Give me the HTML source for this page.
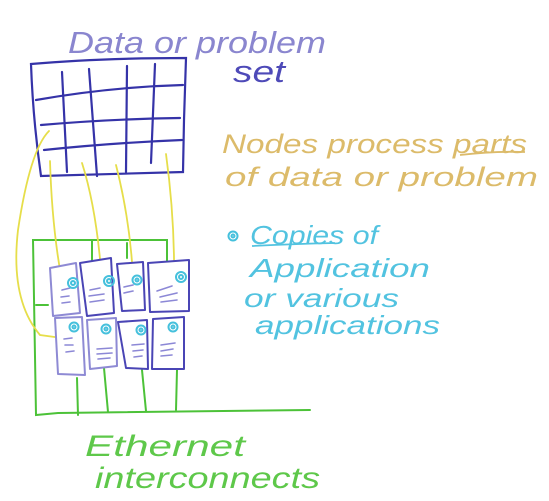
<!DOCTYPE html>
<html><head><meta charset="utf-8"><style>html,body{margin:0;padding:0;background:#fff}svg{display:block}</style></head>
<body>
<svg width="549" height="501" viewBox="0 0 549 501" xmlns="http://www.w3.org/2000/svg" font-family="Liberation Sans, sans-serif" font-style="italic" font-weight="normal">
<rect width="549" height="501" fill="#fff"/>
<!-- title -->
<text x="68" y="53" font-size="31" fill="#8a86cf" textLength="258" lengthAdjust="spacingAndGlyphs">Data or problem</text>
<text x="233" y="82" font-size="31" fill="#4e4ab8" textLength="52" lengthAdjust="spacingAndGlyphs">set</text>
<!-- grid -->
<g stroke="#3533a8" stroke-width="2.2" fill="none" stroke-linecap="round">
<path d="M31 64 Q100 58 186 58 L184 120 L183 172 Q120 174 41 176 Q33 120 31 64 Z"/>
<path d="M62 72 L67 172"/><path d="M89 69 L97 176"/><path d="M127 66 L126 172"/><path d="M155 64 L151 163"/>
<path d="M36 100 Q110 87 183 85"/><path d="M41 125 Q110 119 180 118"/><path d="M44 150 Q110 143 182 140"/>
</g>
<!-- green network -->
<g stroke="#4cc238" stroke-width="2" fill="none" stroke-linecap="round">
<path d="M167 262 L167 240 L33 240 L36 415 L58 413 L310 410"/>
<path d="M92 240 L92 262"/><path d="M127 243 L127 258"/>
<path d="M36 305 L48 305"/>
<path d="M77 378 L78 415"/><path d="M104 368 L108 412"/><path d="M142 370 L146 411"/><path d="M177 370 L176 410"/>
</g>
<!-- yellow -->
<g stroke="#e6de4a" stroke-width="1.8" fill="none" stroke-linecap="round">
<path d="M50 161 Q52 230 63 287"/><path d="M82 163 Q97 210 102 283"/><path d="M116 165 Q130 220 133 277"/><path d="M166 154 Q175 220 174 283"/>
<path d="M49 131 Q30 150 18 230 Q10 300 40 335 L62 338"/>
</g>
<!-- nodes -->
<g stroke="#4a45b5" stroke-width="2" fill="#fff" stroke-linejoin="round">
<path d="M50 268 L76 263 L80 313 L53 316 Z" stroke="#8e8ad4"/>
<path d="M80 263 L111 258 L114 313 L87 316 Z"/>
<path d="M117 264 L143 262 L145 310 L122 311 Z"/>
<path d="M148 263 L189 260 L189 311 L150 312 Z"/>
<path d="M55 318 L82 317 L85 375 L58 374 Z" stroke="#8e8ad4"/>
<path d="M87 320 L116 318 L117 366 L90 369 Z" stroke="#8e8ad4"/>
<path d="M118 322 L147 320 L148 369 L126 368 Z"/>
<path d="M153 319 L184 317 L184 369 L152 369 Z"/>
</g>
<g stroke="#8c88d6" stroke-width="1.6" stroke-linecap="round">
<path d="M62 290 L70 288 M61 297 L69 296 M62 303 L70 302"/>
<path d="M90 290 L100 288 M89 296 L104 294 M90 302 L104 300"/>
<path d="M124 287 L133 285 M124 293 L133 291"/>
<path d="M157 291 L172 286 M160 297 L177 293 M161 302 L177 300"/>
<path d="M64 339 L72 338 M65 345 L73 345 M66 352 L74 351"/>
<path d="M97 349 L112 348 M97 354 L112 353 M98 359 L110 358"/>
<path d="M132 345 L144 344 M133 351 L143 350 M134 357 L142 356"/>
<path d="M161 345 L175 343 M161 351 L173 349 M161 356 L172 355"/>
</g>
<g stroke="#45c0dc" stroke-width="2" fill="none">
<circle cx="73" cy="283" r="5"/><circle cx="73" cy="283" r="2"/>
<circle cx="109" cy="281" r="5"/><circle cx="109" cy="281" r="2"/>
<circle cx="137" cy="280" r="4.5"/><circle cx="137" cy="280" r="1.5"/>
<circle cx="181" cy="277" r="5"/><circle cx="181" cy="277" r="2"/>
<circle cx="74" cy="327" r="4.5"/><circle cx="74" cy="327" r="1.5"/>
<circle cx="106" cy="329" r="4.5"/><circle cx="106" cy="329" r="1.5"/>
<circle cx="141" cy="330" r="4.5"/><circle cx="141" cy="330" r="1.5"/>
<circle cx="173" cy="327" r="4.5"/><circle cx="173" cy="327" r="1.5"/>
<circle cx="233" cy="236" r="4.5"/><circle cx="233" cy="236" r="1.5"/>
</g>
<!-- tan text -->
<text x="222" y="153" font-size="27" fill="#dcbb6a" textLength="305" lengthAdjust="spacingAndGlyphs">Nodes process parts</text>
<path d="M460 155 Q495 151 525 152" stroke="#dcbb6a" stroke-width="1.8" fill="none"/>
<text x="225" y="186" font-size="27" fill="#dcbb6a" textLength="313" lengthAdjust="spacingAndGlyphs">of data or problem</text>
<!-- cyan text -->
<g fill="#52c3e0" font-size="26">
<text x="250" y="244" textLength="128" lengthAdjust="spacingAndGlyphs">Copies of</text>
<text x="250" y="277" textLength="180" lengthAdjust="spacingAndGlyphs">Application</text>
<text x="244" y="307" textLength="155" lengthAdjust="spacingAndGlyphs">or various</text>
<text x="255" y="334" textLength="185" lengthAdjust="spacingAndGlyphs">applications</text>
</g>
<path d="M252 246 Q290 244 335 243" stroke="#52c3e0" stroke-width="1.8" fill="none"/>
<!-- green text -->
<text x="85" y="456" font-size="30" fill="#5ec84a" textLength="160" lengthAdjust="spacingAndGlyphs">Ethernet</text>
<text x="95" y="488" font-size="30" fill="#5ec84a" textLength="225" lengthAdjust="spacingAndGlyphs">interconnects</text>
</svg>
</body></html>
